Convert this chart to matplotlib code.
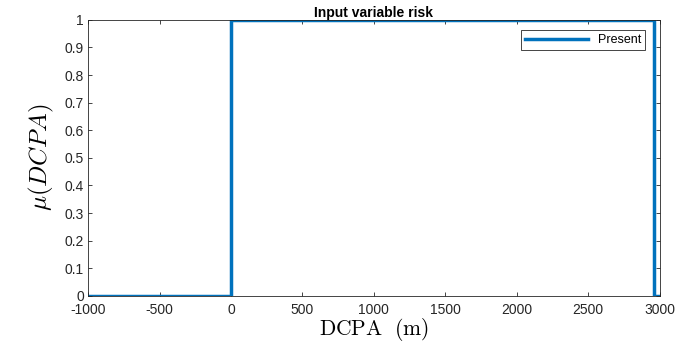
import numpy as np
import matplotlib
matplotlib.use('Agg')
from matplotlib import pyplot as plt

# Membership function of the DCPA input
dcpa = [-1000, 0, 0, 2960, 2960, 3000]
mu = [0, 0, 1, 1, 0, 0]

x_ticks = [-1000, -500, 0, 500, 1000, 1500, 2000, 2500, 3000]
y_ticks = [0, 0.1, 0.2, 0.3, 0.4, 0.5, 0.6, 0.7, 0.8, 0.9, 1]

plt.rcParams['font.family'] = ['Liberation Sans', 'DejaVu Sans']
plt.rcParams['mathtext.fontset'] = 'cm'
plt.rcParams['axes.unicode_minus'] = False

fig = plt.figure(figsize=(6.78, 3.42), dpi=100)
ax = fig.add_axes([0.13, 0.135, 0.843, 0.807])

ax.plot(dcpa, mu, color='#0072BD', linewidth=2.5, label='Present')

ax.set_xlim(-1000, 3000)
ax.set_ylim(0, 1)
ax.set_xticks(x_ticks)
ax.set_yticks(y_ticks)
ax.set_yticklabels(['0', '0.1', '0.2', '0.3', '0.4', '0.5', '0.6', '0.7', '0.8', '0.9', '1'])
ax.tick_params(direction='in', top=True, right=True, labelsize=10,
               colors='#262626', length=3, width=0.6, pad=3)
ax.tick_params(axis='x', pad=5.5)
for s in ax.spines.values():
    s.set_color('#262626')
    s.set_linewidth(0.6)

ax.set_title('Input variable risk', fontsize=10, fontweight='bold', pad=2)
ax.set_xlabel(r'$\mathrm{DCPA\ \ (m)}$', fontsize=15.5)
ax.xaxis.set_label_coords(0.5, -0.143, transform=ax.transAxes)
ax.xaxis.label.set_va('baseline')
ax.set_ylabel(r'$\mu(DCPA)$', fontsize=18, labelpad=6)

leg = ax.legend(loc='upper right', fontsize=9, fancybox=False, framealpha=1,
                edgecolor='#262626', handlelength=5, borderpad=0.3,
                bbox_to_anchor=(0.985, 0.985))
leg.get_frame().set_linewidth(0.6)

fig.savefig('out.png', dpi=100)
